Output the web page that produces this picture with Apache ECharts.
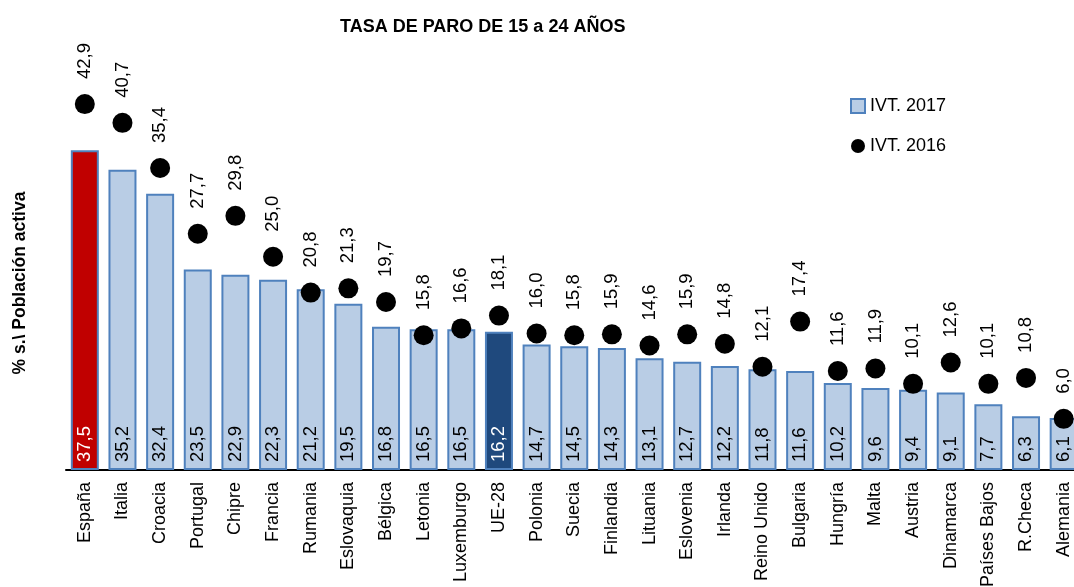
<!DOCTYPE html>
<html>
<head>
<meta charset="utf-8">
<script src="https://cdn.jsdelivr.net/npm/echarts@6/dist/echarts.min.js"></script>
<style>
  html, body { margin: 0; padding: 0; background: #fff; }
  #chart { width: 1074px; height: 587px; }
</style>
</head>
<body>
<div id="chart"></div>
<script>
// datos
var categories = ['España', 'Italia', 'Croacia', 'Portugal', 'Chipre', 'Francia', 'Rumania', 'Eslovaquia', 'Bélgica',
  'Letonia', 'Luxemburgo', 'UE-28', 'Polonia', 'Suecia', 'Finlandia', 'Lituania', 'Eslovenia', 'Irlanda',
  'Reino Unido', 'Bulgaria', 'Hungría', 'Malta', 'Austria', 'Dinamarca', 'Países Bajos', 'R.Checa', 'Alemania']
var ivt2017 = [37.5, 35.2, 32.4, 23.5, 22.9, 22.3, 21.2, 19.5, 16.8, 16.5, 16.5, 16.2, 14.7, 14.5, 14.3, 13.1, 12.7,
  12.2, 11.8, 11.6, 10.2, 9.6, 9.4, 9.1, 7.7, 6.3, 6.1]
var ivt2016 = [42.9, 40.7, 35.4, 27.7, 29.8, 25.0, 20.8, 21.3, 19.7, 15.8, 16.6, 18.1, 16.0, 15.8, 15.9, 14.6, 15.9,
  14.8, 12.1, 17.4, 11.6, 11.9, 10.1, 12.6, 10.1, 10.8, 6.0]
var seriesNames = ['IVT. 2017', 'IVT. 2016']

var FONT = 'Liberation Sans'
var fmt = function (v) { return v.toFixed(1).replace('.', ',') }

var barData = ivt2017.map(function (v, i) {
  var item = { value: v }
  if (categories[i] === 'España') {
    item.itemStyle = { color: '#C00000' }
    item.label = { color: '#fff' }
  } else if (categories[i] === 'UE-28') {
    item.itemStyle = { color: '#1F497D' }
    item.label = { color: '#fff' }
  }
  return item
})

var chart = echarts.init(document.getElementById('chart'))
chart.setOption({
  animation: false,
  textStyle: { fontFamily: FONT },
  title: {
    text: 'TASA DE PARO DE 15 a 24 AÑOS',
    left: 340,
    top: 18,
    padding: 0,
    textStyle: { fontFamily: FONT, fontSize: 18, fontWeight: 'bold', color: '#000' }
  },
  legend: {
    orient: 'vertical',
    left: 845,
    top: 91,
    itemWidth: 14,
    itemHeight: 14,
    itemGap: 20,
    textStyle: { fontFamily: FONT, fontSize: 18, color: '#000', lineHeight: 20 },
    data: [
      { name: seriesNames[0], icon: 'rect', itemStyle: { color: '#B9CDE5', borderColor: '#4F81BD', borderWidth: 2 } },
      { name: seriesNames[1], icon: 'circle', itemStyle: { color: '#000', opacity: 1 } }
    ]
  },
  graphic: [{
    type: 'text',
    x: 20,
    y: 283,
    rotation: Math.PI / 2,
    style: {
      text: '% s.\\ Población activa',
      font: 'bold 17.5px "Liberation Sans"',
      fill: '#000',
      textAlign: 'center',
      textVerticalAlign: 'middle'
    }
  }],
  grid: {
    left: 66,
    top: 43.5,
    width: 1016.5,
    height: 426.5,
    outerBoundsMode: 'none'
  },
  xAxis: {
    type: 'category',
    data: categories,
    axisLine: { lineStyle: { color: '#000', width: 2 } },
    axisTick: { show: false },
    axisLabel: { interval: 0, rotate: 90, margin: 12, fontSize: 18, color: '#000', fontFamily: FONT }
  },
  yAxis: {
    type: 'value',
    min: 0,
    max: 50,
    show: false
  },
  series: [{
    name: seriesNames[0],
    type: 'bar',
    barWidth: 28,
    data: barData,
    itemStyle: { color: '#B9CDE5', borderColor: '#4F81BD', borderWidth: 2 },
    label: {
      show: true,
      position: 'insideBottom',
      distance: 8,
      rotate: 90,
      align: 'left',
      verticalAlign: 'middle',
      fontSize: 18.5,
      color: '#000',
      formatter: function (p) { return fmt(p.value) }
    }
  }, {
    name: seriesNames[1],
    type: 'scatter',
    symbol: 'circle',
    symbolSize: 20,
    data: ivt2016,
    itemStyle: { color: '#000', opacity: 1 },
    z: 3,
    label: {
      show: true,
      position: 'top',
      distance: 15,
      rotate: 90,
      align: 'left',
      verticalAlign: 'middle',
      fontSize: 18.5,
      color: '#000',
      formatter: function (p) { return fmt(p.value) }
    }
  }]
})
</script>
</body>
</html>
